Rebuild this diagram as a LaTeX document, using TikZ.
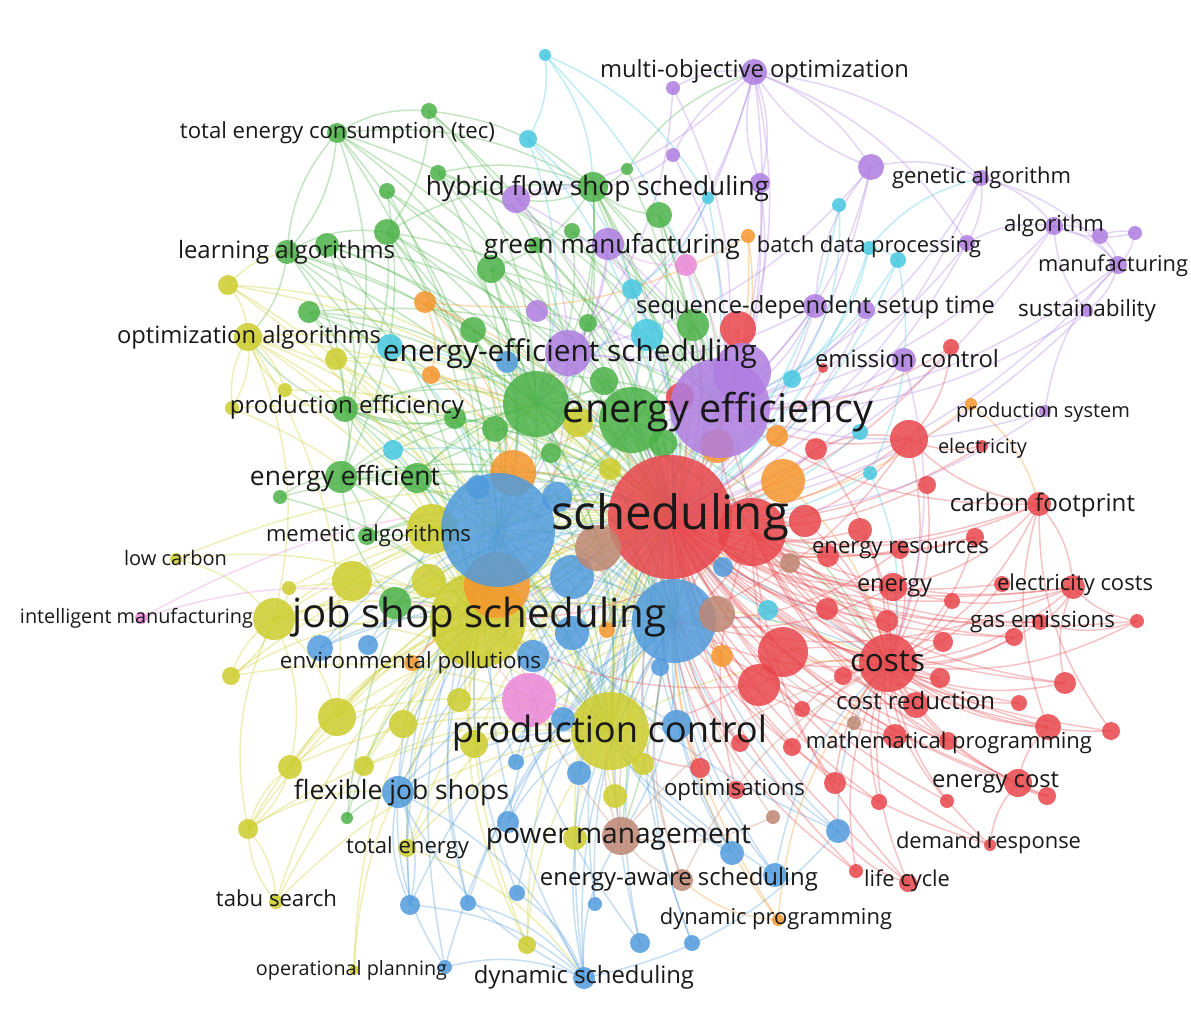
\documentclass[tikz,border=0pt]{standalone}
\usepackage{fontspec}
\setmainfont{Open Sans}
\pgfdeclarelayer{background}
\pgfsetlayers{background,main}
\definecolor{cR}{RGB}{232,70,75}
\definecolor{cG}{RGB}{76,178,72}
\definecolor{cB}{RGB}{80,155,220}
\definecolor{cY}{RGB}{205,205,45}
\definecolor{cP}{RGB}{175,125,225}
\definecolor{cC}{RGB}{70,200,225}
\definecolor{cO}{RGB}{245,150,45}
\definecolor{cK}{RGB}{190,135,115}
\definecolor{cM}{RGB}{235,135,215}
\definecolor{txt}{RGB}{25,25,25}
\tikzset{
  bub/.style={circle, inner sep=0pt, draw=none, fill=#1, fill opacity=0.85},
  eg/.style={draw=#1, draw opacity=0.33, line width=1.5pt},
  lab/.style={anchor=center, inner sep=0pt, text=txt}
}
\newcommand\nd[5]{\node[bub=#2, minimum size={2*#5}] (#1) at (#3,#4) {};}
\newcommand\lbl[5]{\node[lab] (#1) at (#2,#3) {\resizebox{#4pt}{!}{\rule{0pt}{0.54em}\smash{#5}}};}
\newcommand\edges[2]{%
  \foreach \s/\tl in {#2}{\foreach \t in \tl {\draw[eg=#1] (\s.center) to[bend left=18] (\t.center);}}}
\begin{document}
\begin{tikzpicture}[x=1pt,y=-1pt]
\useasboundingbox (0,0) rectangle (1191,1032);
\clip (0,0) rectangle (1191,1032);
% ---------- nodes ----------
% yellow
\nd{y0}{cY}{478}{620}{48}
\nd{y1}{cY}{610}{731}{39}
\nd{y2}{cY}{578}{422}{15}
\nd{y3}{cY}{610}{469}{11}
\nd{y4}{cY}{432}{529}{25}
\nd{y5}{cY}{352}{581}{20}
\nd{y6}{cY}{429}{581}{17}
\nd{y7}{cY}{289}{588}{7}
\nd{y8}{cY}{274}{619}{21}
\nd{y9}{cY}{176}{559}{6}
\nd{y10}{cY}{231}{676}{9}
\nd{y11}{cY}{337}{717}{19}
\nd{y12}{cY}{403}{724}{14}
\nd{y13}{cY}{459}{700}{12}
\nd{y14}{cY}{474}{744}{14}
\nd{y15}{cY}{290}{767}{12}
\nd{y16}{cY}{364}{766}{10}
\nd{y17}{cY}{248}{829}{10}
\nd{y18}{cY}{407}{848}{9}
\nd{y19}{cY}{276}{902}{7}
\nd{y20}{cY}{354}{970}{5}
\nd{y21}{cY}{527}{945}{9}
\nd{y22}{cY}{615}{796}{12}
\nd{y23}{cY}{575}{838}{12}
\nd{y24}{cY}{643}{764}{11}
\nd{y25}{cY}{228}{285}{10}
\nd{y26}{cY}{248}{337}{14}
\nd{y27}{cY}{336}{359}{11}
\nd{y28}{cY}{285}{390}{7}
\nd{y29}{cY}{232}{408}{7}
% orange
\nd{o0}{cO}{513}{473}{23}
\nd{o1}{cO}{497}{585}{33}
\nd{o2}{cO}{425}{302}{11}
\nd{o3}{cO}{431}{375}{9}
\nd{o4}{cO}{748}{236}{7}
\nd{o5}{cO}{717}{446}{17}
\nd{o6}{cO}{777}{436}{11}
\nd{o7}{cO}{783}{481}{22}
\nd{o8}{cO}{971}{404}{6}
\nd{o9}{cO}{412}{663}{8}
\nd{o10}{cO}{607}{630}{8}
\nd{o11}{cO}{722}{656}{11}
\nd{o12}{cO}{778}{920}{6}
% green
\nd{g0}{cG}{536}{404}{33}
\nd{g1}{cG}{632}{420}{33}
\nd{g2}{cG}{604}{381}{14}
\nd{g3}{cG}{693}{325}{16}
\nd{g4}{cG}{588}{323}{9}
\nd{g5}{cG}{473}{330}{13}
\nd{g6}{cG}{495}{429}{13}
\nd{g7}{cG}{455}{418}{11}
\nd{g8}{cG}{551}{453}{10}
\nd{g9}{cG}{663}{443}{14}
\nd{g10}{cG}{345}{409}{13}
\nd{g11}{cG}{341}{477}{16}
\nd{g12}{cG}{417}{478}{15}
\nd{g13}{cG}{280}{497}{7}
\nd{g14}{cG}{367}{536}{9}
\nd{g15}{cG}{395}{603}{16}
\nd{g16}{cG}{309}{312}{11}
\nd{g17}{cG}{287}{252}{12}
\nd{g18}{cG}{327}{245}{12}
\nd{g19}{cG}{387}{232}{13}
\nd{g20}{cG}{387}{191}{8}
\nd{g21}{cG}{438}{173}{8}
\nd{g22}{cG}{337}{133}{10}
\nd{g23}{cG}{429}{111}{8}
\nd{g24}{cG}{491}{269}{14}
\nd{g25}{cG}{536}{245}{8}
\nd{g26}{cG}{572}{231}{8}
\nd{g27}{cG}{593}{187}{15}
\nd{g28}{cG}{659}{215}{13}
\nd{g29}{cG}{627}{169}{6}
\nd{g30}{cG}{347}{818}{6}
% blue
\nd{b0}{cB}{498}{530}{57}
\nd{b1}{cB}{674}{621}{42}
\nd{b2}{cB}{478}{487}{12}
\nd{b3}{cB}{557}{497}{15}
\nd{b4}{cB}{572}{577}{22}
\nd{b5}{cB}{572}{633}{17}
\nd{b6}{cB}{533}{656}{16}
\nd{b7}{cB}{507}{362}{11}
\nd{b8}{cB}{320}{648}{13}
\nd{b9}{cB}{368}{645}{10}
\nd{b10}{cB}{563}{719}{12}
\nd{b11}{cB}{516}{762}{8}
\nd{b12}{cB}{579}{773}{12}
\nd{b13}{cB}{398}{792}{16}
\nd{b14}{cB}{508}{822}{11}
\nd{b15}{cB}{677}{725}{15}
\nd{b16}{cB}{723}{567}{10}
\nd{b17}{cB}{660}{667}{9}
\nd{b18}{cB}{410}{905}{10}
\nd{b19}{cB}{468}{903}{8}
\nd{b20}{cB}{517}{893}{8}
\nd{b21}{cB}{445}{967}{7}
\nd{b22}{cB}{584}{978}{11}
\nd{b23}{cB}{595}{904}{7}
\nd{b24}{cB}{640}{943}{10}
\nd{b25}{cB}{692}{943}{8}
\nd{b26}{cB}{732}{853}{12}
\nd{b27}{cB}{775}{875}{12}
\nd{b28}{cB}{838}{831}{12}
% red
\nd{r0}{cR}{670}{517}{62}
\nd{r1}{cR}{752}{532}{34}
\nd{r2}{cR}{738}{329}{18}
\nd{r3}{cR}{680}{397}{14}
\nd{r4}{cR}{816}{449}{11}
\nd{r5}{cR}{909}{439}{19}
\nd{r6}{cR}{927}{485}{9}
\nd{r7}{cR}{982}{446}{6}
\nd{r8}{cR}{1039}{504}{12}
\nd{r9}{cR}{805}{521}{16}
\nd{r10}{cR}{860}{530}{12}
\nd{r11}{cR}{828}{556}{11}
\nd{r12}{cR}{900}{550}{9}
\nd{r13}{cR}{975}{537}{9}
\nd{r14}{cR}{893}{587}{14}
\nd{r15}{cR}{1002}{584}{8}
\nd{r16}{cR}{1073}{587}{12}
\nd{r17}{cR}{952}{601}{8}
\nd{r18}{cR}{887}{621}{11}
\nd{r19}{cR}{827}{609}{11}
\nd{r20}{cR}{783}{652}{25}
\nd{r21}{cR}{759}{685}{21}
\nd{r22}{cR}{888}{663}{29}
\nd{r23}{cR}{843}{676}{9}
\nd{r24}{cR}{940}{678}{10}
\nd{r25}{cR}{943}{642}{10}
\nd{r26}{cR}{1014}{637}{9}
\nd{r27}{cR}{1040}{622}{8}
\nd{r28}{cR}{1137}{621}{7}
\nd{r29}{cR}{916}{705}{13}
\nd{r30}{cR}{1019}{703}{8}
\nd{r31}{cR}{1065}{683}{11}
\nd{r32}{cR}{948}{741}{9}
\nd{r34}{cR}{1048}{727}{13}
\nd{r35}{cR}{1111}{731}{9}
\nd{r36}{cR}{835}{783}{11}
\nd{r37}{cR}{879}{802}{8}
\nd{r38}{cR}{947}{801}{7}
\nd{r39}{cR}{1018}{783}{14}
\nd{r40}{cR}{1047}{796}{9}
\nd{r41}{cR}{990}{845}{6}
\nd{r42}{cR}{856}{871}{7}
\nd{r43}{cR}{908}{883}{9}
\nd{r44}{cR}{792}{747}{9}
\nd{r45}{cR}{740}{743}{9}
\nd{r46}{cR}{700}{768}{10}
\nd{r47}{cR}{736}{790}{9}
\nd{r48}{cR}{802}{709}{8}
\nd{r49}{cR}{951}{347}{8}
\nd{r50}{cR}{823}{368}{5}
\nd{r51}{cR}{895}{736}{12}
% purple
\nd{p0}{cP}{720}{408}{50}
\nd{p1}{cP}{742}{372}{29}
\nd{p2}{cP}{568}{353}{23}
\nd{p3}{cP}{537}{311}{11}
\nd{p4}{cP}{516}{199}{14}
\nd{p5}{cP}{608}{244}{16}
\nd{p6}{cP}{760}{183}{10}
\nd{p7}{cP}{673}{155}{7}
\nd{p8}{cP}{673}{88}{7}
\nd{p9}{cP}{754}{72}{13}
\nd{p10}{cP}{871}{167}{13}
\nd{p11}{cP}{981}{178}{8}
\nd{p12}{cP}{967}{243}{8}
\nd{p13}{cP}{1054}{226}{9}
\nd{p14}{cP}{1100}{236}{8}
\nd{p15}{cP}{1135}{233}{7}
\nd{p16}{cP}{1118}{265}{9}
\nd{p17}{cP}{1087}{311}{6}
\nd{p18}{cP}{815}{306}{12}
\nd{p19}{cP}{866}{310}{9}
\nd{p20}{cP}{904}{360}{12}
\nd{p21}{cP}{1045}{411}{6}
% cyan
\nd{c0}{cC}{545}{55}{6}
\nd{c1}{cC}{528}{139}{9}
\nd{c2}{cC}{708}{198}{6}
\nd{c3}{cC}{839}{205}{7}
\nd{c4}{cC}{869}{248}{7}
\nd{c5}{cC}{898}{260}{8}
\nd{c6}{cC}{632}{289}{10}
\nd{c7}{cC}{647}{335}{16}
\nd{c8}{cC}{390}{347}{13}
\nd{c9}{cC}{393}{450}{10}
\nd{c10}{cC}{792}{379}{9}
\nd{c11}{cC}{860}{432}{8}
\nd{c12}{cC}{870}{473}{7}
\nd{c13}{cC}{768}{610}{10}
% brown
\nd{k0}{cK}{621}{836}{19}
\nd{k1}{cK}{598}{548}{23}
\nd{k2}{cK}{717}{614}{18}
\nd{k3}{cK}{790}{563}{10}
\nd{k4}{cK}{682}{880}{11}
\nd{k5}{cK}{773}{817}{7}
\nd{k6}{cK}{854}{723}{7}
% pink
\nd{m0}{cM}{529}{700}{27}
\nd{m1}{cM}{686}{265}{11}
\nd{m2}{cM}{141}{618}{6}
% ---------- edges ----------
\begin{pgfonlayer}{background}
\fill[white] (0,0) rectangle (1191,1032);
\edges{cG}{g0/{r0,p0,b0,b1,y1,y0,r22,r1,p2,k0,g10,g11},g1/{r0,y0,b0,b1,y1,r22,r1,k0,p2},g2/{r0,b1,y0,g0},g3/{r0,g1,p0,b0,g27},g4/{r0,g0,y1},g5/{r0,y0,g0,b0,b1,g19},g6/{r0,y0,b1},g7/{r0,b0,y1,g10},g8/{r0,y1},g9/{r0,b1,y0},g10/{r0,g0,y0,b0,p0,y1,b1,g11,y26},g11/{r0,g0,y0,b0,p0,y1,b1,g14},g12/{r0,g0,y0,b1,y1,g10},g13/{g11,y0,r0},g14/{r0,y0,b0,g0,b1},g15/{r0,y0,y1,b1,g11},g16/{r0,g0,y0,p0,b1,g10},g17/{r0,g0,y0,b0,g22,y26,b1,g10,g19},g18/{r0,g0,y0,p2,g11},g19/{r0,g0,b0,p0,g27,y1,g10},g20/{g0,r0,y0,g11},g21/{r0,g0,g27,p0,b0},g22/{r0,p0,g0,g17,g27,b0,g23,g10,y0},g23/{g27,g0,r0,p2,g19},g24/{r0,p0,g0,g1,b0,y0},g25/{r0,g1,g0},g26/{r0,p0,g0},g27/{r0,p0,g0,g1,y0,b0,p4,r1,b1,g24},g28/{r0,p0,g1,g27,b1},g29/{p9,g27,r0},g30/{b13,y0,g0}}
\edges{cY}{y0/{r0,b1,p0,r22,y1,r1,g0},y1/{r0,b1,r22,p0,r1,b0},y2/{r0,b0},y3/{r0,b1},y4/{r0,y0,b1,y1},y5/{y0,r0,b0,y1,y8},y6/{y0,r0,b1},y7/{y0,y8,r0},y8/{y0,y1,r0,b0,y11,y10,b1,y15},y9/{y0,y8,r0},y10/{y0,y8,y1,r0},y11/{y0,y1,r0,b1},y12/{y1,y0,r0},y13/{y1,r0},y14/{y1,y0,r0},y15/{y0,y1,r0,y17,b1},y16/{y0,y1,r0},y17/{y0,y1,y19,y15,b13,r0,y8},y18/{y1,y0,r0,b22,b1},y19/{y0,y17,y1,r0},y20/{y0,y13},y21/{y0,y1,b0,r0},y22/{r0,y1},y23/{y1,r0},y24/{r0,y1},y25/{y26,g17,r0,y0,g0,y1},y26/{r0,y0,y1,b0,g0,b1,y28,y29,y8,y11},y27/{y0,r0,g0},y28/{y0,y26,r0},y29/{y26,y0,r0}}
\edges{cB}{b0/{r0,b1,p0,r22,y1},b1/{r0,p0,r22,k0},b2/{r0},b3/{r0},b4/{r0,b1},b5/{r0},b6/{r0,b1},b7/{r0,b0},b8/{y0,b0,r0,b1},b9/{b0,r0},b10/{r0,b1},b11/{b0,r0},b12/{b1,r0},b13/{b0,r0,b1,y1,y0,b22,b18},b14/{b1,y1,r0},b15/{r0,b0},b16/{r0},b17/{r0},b18/{b13,y0,b0,b1,b22},b19/{b0,b22,y0,b1},b20/{b1,b0,b22},b21/{b13,b22,b0,b1},b22/{b1,b0,r0,y1,k0,b13},b23/{r0,b1},b24/{b1,r0,b0},b25/{b1,r0},b26/{b1,r0,b0,y1},b27/{b1,r0,r22,b0},b28/{r0,b1,r22,b22,b0}}
\edges{cR}{r1/{r22,b1,p0,y0},r2/{r0,p0,g1},r3/{r0},r4/{r0,r22,r5},r5/{r0,r1,r22,p0,b1},r6/{r0,r22},r7/{r5,r0},r8/{r0,r22,r1,p0,r5,r14,r16},r9/{r0,r22},r10/{r0,r22},r11/{r0,r22},r12/{r0,r22,b1},r13/{r0,r1,r22},r14/{r0,r22,r1,b1},r15/{r0,r22},r16/{r0,r22,r1,r14,b1,r27},r17/{r0,r22},r18/{r0,r22,r1},r19/{r0,r22},r20/{r0,r22,y1},r21/{r0,r22,y0},r22/{r0,r1,b1,p0},r23/{r0,r22},r24/{r0,r22,r1},r25/{r0,r22},r26/{r0,r22,r1},r27/{r0,r22,r1},r28/{r16,r27,r22,r0},r29/{r0,r22,r1,b1},r30/{r22,r0},r31/{r22,r0,r1,r16},r32/{r0,r22,r1},r34/{r22,r0,r1,r8},r35/{r22,r0,r8},r36/{r0,r1,r22},r37/{r0,r22},r38/{r22,r0},r39/{r0,r22,r1,r34},r40/{r0,r22,r39},r41/{r22,r0,b1,r39},r42/{r0,r22,b1},r43/{r0,r22,r1,b28},r44/{r0,r22},r45/{r0,b1},r46/{r0,y1},r47/{r0,r1},r48/{r0,r22},r49/{p0,r0,r5},r50/{r0},r51/{r0,r22,b1}}
\edges{cP}{p0/{r0,b1,y0},p1/{r0},p2/{r0,p0,b0,y0},p3/{p0,r0},p4/{p0,r0,g27,p2},p5/{p0,r0,p2,g0},p6/{p9,p0,r0},p7/{p9,p0,g27},p8/{p9,p0,p2},p9/{p0,r0,p2,g0,p10,p11,p6,p4,p12},p10/{p0,p9,r0,p2,p11},p11/{p0,p13,p16,r0,p12},p12/{p0,r0,p13},p13/{p16,p14,p0,r0},p14/{p16,p15},p15/{p16,p13},p16/{p0,r0,p17},p17/{p0,p13,r0},p18/{p0,r0,p10,p2,b0},p19/{p0,r0},p20/{p0,r0,r22},p21/{p0,r0,p16}}
\edges{cC}{c0/{c1,p0,g27,c2},c1/{c7,r0,g0},c2/{c6,r0},c3/{c10,r0},c4/{r0,c10,c5,p11},c5/{r0,p0,c12},c6/{r0,g0},c7/{r0,y0},c8/{r0,b0,g0},c9/{r0,y0},c10/{r0,p0},c11/{r0},c12/{r0,r22},c13/{r0}}
\edges{cO}{o0/{r0,p0},o1/{r0,y0},o2/{r0,o3,o0,g0},o3/{r0,o0},o4/{o2,r0,p0},o5/{r0},o6/{r0},o7/{r0,r22},o8/{r8,r0},o9/{y0,r0},o10/{r0},o11/{r0},o12/{r22,r0,k4,b1}}
\edges{cK}{k0/{r0,b1,y1,r22,b0},k1/{r0},k2/{r0},k3/{r0},k4/{r0,k0,b1,r22},k5/{r0,k0},k6/{r0,r22}}
\edges{cM}{m0/{r0,y1,y0},m1/{r0,p0,p5},m2/{y0,r0}}
\end{pgfonlayer}
% ---------- labels ----------
\lbl{l1}{754.5}{71}{309}{multi-objective optimization}
\lbl{l2}{337.5}{133}{315}{total energy consumption (tec)}
\lbl{l3}{597.5}{188}{343}{hybrid flow shop scheduling}
\lbl{l4}{981.5}{178}{179}{genetic algorithm}
\lbl{l5}{286.5}{252}{217}{learning algorithms}
\lbl{l6}{612}{246}{256}{green manufacturing}
\lbl{l7}{869}{247}{224}{batch data processing}
\lbl{l8}{1054}{226}{100}{algorithm}
\lbl{l9}{1113}{266}{150}{manufacturing}
\lbl{l10}{815.5}{307}{359}{sequence-dependent setup time}
\lbl{l11}{1087}{310}{138}{sustainability}
\lbl{l12}{249}{337}{264}{optimization algorithms}
\lbl{l13}{570}{353}{374}{energy-efficient scheduling}
\lbl{l14}{907}{361}{184}{emission control}
\lbl{l15}{347}{407}{234}{production efficiency}
\lbl{l16}{718}{412}{310}{energy efficiency}
\lbl{l17}{1043}{412}{174}{production system}
\lbl{l18}{982.5}{448}{89}{electricity}
\lbl{l19}{345}{478}{190}{energy efficient}
\lbl{l20}{1042.5}{505}{185}{carbon footprint}
\lbl{l21}{670}{517}{238}{scheduling}
\lbl{l22}{368.5}{536}{205}{memetic algorithms}
\lbl{l23}{900.5}{548}{177}{energy resources}
\lbl{l24}{175.5}{560}{103}{low carbon}
\lbl{l25}{894.5}{585}{75}{energy}
\lbl{l26}{1075}{585}{156}{electricity costs}
\lbl{l27}{136.5}{618}{233}{intelligent manufacturing}
\lbl{l28}{479}{617}{374}{job shop scheduling}
\lbl{l29}{1042.5}{621}{145}{gas emissions}
\lbl{l30}{410.5}{662}{261}{environmental pollutions}
\lbl{l31}{887.5}{663}{75}{costs}
\lbl{l32}{915.5}{703}{159}{cost reduction}
\lbl{l33}{609.5}{733}{315}{production control}
\lbl{l34}{949}{743}{286}{mathematical programming}
\lbl{l35}{995.5}{781}{127}{energy cost}
\lbl{l36}{401.5}{792}{215}{flexible job shops}
\lbl{l37}{734.5}{789}{141}{optimisations}
\lbl{l38}{618.5}{836}{265}{power management}
\lbl{l39}{988.5}{843}{185}{demand response}
\lbl{l40}{407.5}{848}{123}{total energy}
\lbl{l41}{679}{879}{278}{energy-aware scheduling}
\lbl{l42}{907}{881}{86}{life cycle}
\lbl{l43}{276.5}{901}{121}{tabu search}
\lbl{l44}{776}{919}{232}{dynamic programming}
\lbl{l45}{351.5}{970}{191}{operational planning}
\lbl{l46}{584}{977}{220}{dynamic scheduling}
\end{tikzpicture}
\end{document}
